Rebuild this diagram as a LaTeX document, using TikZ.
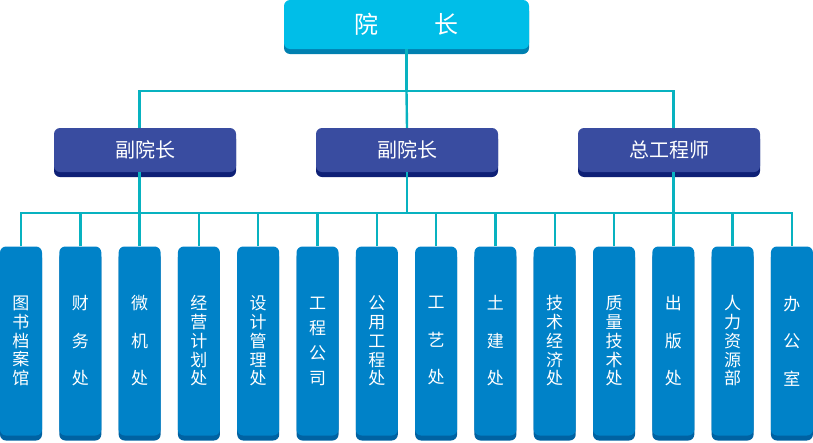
\documentclass[tikz,border=0pt]{standalone}
\usepackage{fontspec}
\setmainfont{Noto Sans CJK SC}
\usetikzlibrary{shadows}
\usetikzlibrary{positioning}

\definecolor{headcyan}{RGB}{0,190,232}
\definecolor{headdark}{RGB}{0,128,176}
\definecolor{vicenavy}{RGB}{57,76,160}
\definecolor{vicedark}{RGB}{14,32,118}
\definecolor{deptblue}{RGB}{0,130,200}
\definecolor{deptdark}{RGB}{0,98,162}
\definecolor{linkteal}{RGB}{8,178,192}

\begin{document}
\begin{tikzpicture}[x=1pt,y=-1pt,
  link/.style={draw=linkteal,line width=2.4pt},
  headbox/.style={rectangle,rounded corners=6pt,fill=headcyan,text=white,minimum width=245pt,minimum height=49pt,font=\fontsize{24}{28}\selectfont,drop shadow={shadow xshift=0pt,shadow yshift=-5pt,fill=headdark,opacity=1}},
  vicebox/.style={rectangle,rounded corners=6pt,fill=vicenavy,text=white,minimum width=182pt,minimum height=44pt,font=\fontsize{20}{24}\selectfont,drop shadow={shadow xshift=0pt,shadow yshift=-5pt,fill=vicedark,opacity=1}},
  deptbox/.style={rectangle,rounded corners=6pt,fill=deptblue,text=white,minimum width=42pt,minimum height=189pt,inner sep=0pt,align=center,drop shadow={shadow xshift=0pt,shadow yshift=-5pt,fill=deptdark,opacity=1}}]
\useasboundingbox (0,0) rectangle (813,442);

\node[headbox] (yz) at (406.5,24.5) {院\hspace{56pt}长};
\node[vicebox] (vpL) at (145,150) {副院长};
\node[vicebox] (vpM) at (407,150) {副院长};
\node[vicebox] (vpR) at (669,150) {总工程师};

\foreach \txt/\lead [count=\i] in {图\\书\\档\\案\\馆/18.75, 财\\务\\处/37.5, 微\\机\\处/37.5, 经\\营\\计\\划\\处/18.75, 设\\计\\管\\理\\处/18.75, 工\\程\\公\\司/25, 公\\用\\工\\程\\处/18.75, 工\\艺\\处/37.5, 土\\建\\处/37.5, 技\\术\\经\\济\\处/18.75, 质\\量\\技\\术\\处/18.75, 出\\版\\处/37.5, 人\\力\\资\\源\\部/18.75, 办\\公\\室/37.5}
  \node[deptbox,font={\fontsize{17}{\lead}\selectfont}] (d\i) at ({21+59.3*(\i-1)},341) {\txt};

\coordinate (upbus) at (0,91);
\coordinate (lowbus) at (0,213);

\draw[link] (yz.south) -- (yz.south |- upbus);
\draw[link] (d3.north |- vpL.north) |- (yz.south |- upbus) -| (d12.north |- vpR.north);
\draw[link] (yz.south |- upbus) -- (vpM.north);

\draw[link] (d3.north |- vpL.south) -- (d3.north);
\draw[link] (vpM.south) -- (vpM.south |- lowbus);
\draw[link] (d12.north |- vpR.south) -- (d12.north);
\draw[link] (d1.north) |- (d14.north |- lowbus) -- (d14.north);
\foreach \i in {2,...,13}
  \draw[link] (d\i.north) -- (d\i.north |- lowbus);

\end{tikzpicture}
\end{document}
